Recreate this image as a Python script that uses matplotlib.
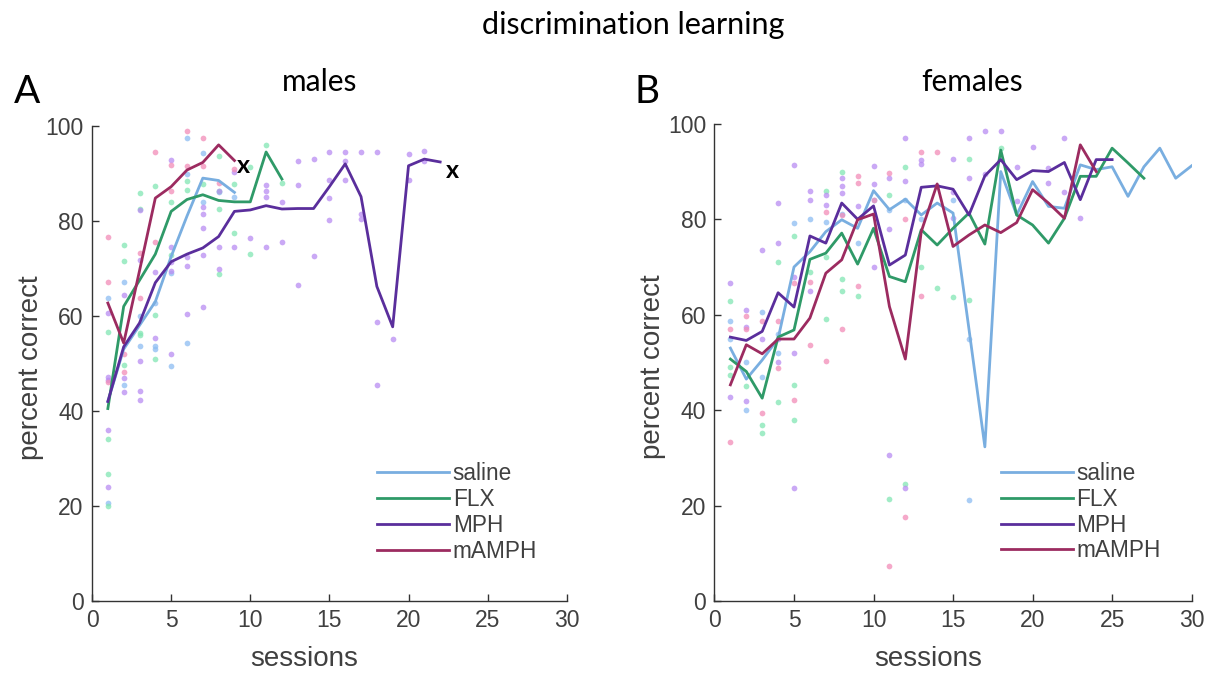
import matplotlib
matplotlib.use("Agg")
import matplotlib.pyplot as plt

# group means per session, males (sessions start at 1)
saline_m = [42, 53, 58, 63, 72.5, 81, 89, 88.5, 86]
flx_m = [40.5, 62, 67.5, 73, 82, 84.5, 85.5, 84.3, 84, 84, 94.5, 88.8]
mph_m = [42, 53.5, 58.5, 67, 71.4, 73, 74.3, 76.7, 82, 82.3, 83.2, 82.5, 82.6, 82.6,
         87.2, 92, 85.1, 66.2, 57.7, 91.6, 93, 92.4]
mamph_m = [62.7, 54.3, 69.5, 84.8, 87.2, 90.7, 92.3, 96, 92.7]

# group means per session, females
saline_f = [53, 46.5, 50.5, 55, 70, 73.2, 77.4, 79.9, 78.1, 86, 82, 84.2, 80.9, 83.4, 81.3,
            57, 32.3, 90, 80.9, 87.9, 82.7, 82.3, 91.4, 90.4, 91, 84.8, 91, 94.9, 88.6, 91.2]
flx_f = [50.7, 48.1, 42.5, 55.3, 56.8, 71.6, 72.9, 77.1, 70.6, 78.1, 68, 66.9, 77.8, 74.6,
         78.1, 81.3, 74.8, 94.5, 80.9, 78.8, 75, 80.2, 89, 89, 94.9, 91.8, 88.6]
mph_f = [55.3, 54.6, 56.5, 64.6, 61.6, 76.5, 75, 83.4, 80, 82.8, 70.4, 72.5, 86.7, 87,
         86.3, 80.9, 89.1, 92.5, 88.3, 90.2, 90, 91.9, 84.1, 92.5, 92.5]
mamph_f = [45.3, 53.7, 51.8, 54.9, 54.9, 59.3, 68.7, 71.5, 79.9, 81.1, 61.7, 50.7, 77.4,
           87.4, 74.3, 76.7, 78.8, 77.2, 79.3, 86.2, 83.4, 80.2, 95.6, 90]

# individual animals: session -> values
saline_m_pts = {1: [63.7, 20.7], 2: [67.2, 45.5], 3: [53.7, 60], 4: [62.7, 53.7, 53],
                5: [49.5, 69], 6: [97.4, 89.9, 54.3], 7: [94.2, 84], 8: [86], 9: [85]}
flx_m_pts = {1: [56.7, 34, 26.7, 20], 2: [75, 71.6, 49.7], 3: [85.8, 82.6, 56.3, 56],
             4: [87.4, 60.2, 51], 5: [84, 72.8], 6: [88.3, 86.5], 7: [87.8],
             8: [93.7, 86.3, 82.6, 68.8], 9: [87.8, 77.5], 10: [91.3, 73], 11: [96], 12: [88]}
mph_m_pts = {1: [60.7, 47.2, 46.5, 36, 24], 2: [64.4, 46.9, 43.9],
             3: [82.3, 71.8, 50.6, 44.3, 42.3], 4: [69.3, 55.3], 5: [92.8, 74.5, 71.4, 69.4, 52],
             6: [72.5, 70.5, 60.5], 7: [82.9, 81.5, 78.5, 72.8, 61.8], 8: [86.2, 74.5, 69.8],
             9: [90.2, 74.5], 10: [76.3], 11: [87.6, 86.2, 85, 74.6], 12: [84, 75.6],
             13: [92.7, 87.6, 66.5], 14: [93, 72.6], 15: [94.4, 88.6, 84.8, 80.2],
             16: [94.4, 92.6, 88.6], 17: [94.4, 81.5, 80.4], 18: [94.4, 58.7, 45.5],
             19: [55.1], 20: [88.6, 94], 21: [94.7, 92.5]}
mamph_m_pts = {1: [76.7, 67.2, 46], 2: [48.1, 52], 3: [73.2, 63.7], 4: [94.4, 75.5],
               5: [91.8, 86.3], 6: [99, 91.6], 7: [97.4, 91.6], 8: [88], 9: [91]}

saline_f_pts = {1: [58.6, 55], 2: [40, 50], 3: [60.5, 47], 4: [56, 52], 5: [79.2], 6: [80],
                7: [79.5], 8: [81], 9: [75], 10: [84], 11: [82], 12: [84], 13: [80],
                15: [84.1], 16: [55, 21.2]}
flx_f_pts = {1: [62.8, 49, 47.3], 2: [45], 3: [36.8, 35.2], 4: [71.1, 41.6],
             5: [76.4, 45.3, 38], 6: [69], 7: [86, 72, 59], 8: [90, 67.5, 65], 9: [64],
             10: [78], 11: [21.4, 85], 12: [91, 24.6], 13: [70], 14: [65.6], 15: [63.8],
             16: [92.6, 63.1], 18: [95]}
mph_f_pts = {1: [66.6, 42.8], 2: [61, 57.4, 42], 3: [73.6, 55], 4: [83.4, 75, 55, 50],
             5: [91.4, 68, 52, 23.6], 6: [86, 84, 65], 7: [85, 83], 8: [88.6, 87, 85.5],
             9: [82.7], 10: [91.2, 87.4, 70], 11: [88.6, 30.6, 78], 12: [97.1, 88, 23.6],
             13: [92.5, 91.5], 14: [87], 15: [92.6, 85.7, 80.2], 16: [97.1, 88.6],
             17: [98.6, 89.5], 18: [98.6], 19: [90.9, 83.9], 20: [95.2], 21: [90.7, 87.7],
             22: [97.1, 85.7], 23: [80.2]}
mamph_f_pts = {1: [57, 33.4], 2: [59.7, 57], 3: [58.7, 39.3], 4: [58.6, 48.8],
               5: [66.7, 42.1], 6: [66.8, 53.7], 7: [81.5, 50.4], 8: [80.9, 57],
               9: [89, 87.5, 66], 10: [84], 11: [89.7, 7.3], 12: [80, 17.5], 13: [94, 64],
               14: [94.1]}

groups = ["saline", "FLX", "MPH", "mAMPH"]
line_colors = ["#79aee0", "#2f9a68", "#5a2e9c", "#9c2b60"]
dot_colors = ["#8dbdf2", "#82e6b4", "#b98cf2", "#f28cb8"]

sans = ["Liberation Sans", "DejaVu Sans"]
plt.rcParams["font.family"] = sans

fig = plt.figure(figsize=(12.11, 6.73), dpi=100)
ax1 = fig.add_axes([0.076, 0.107, 0.392, 0.706])
ax2 = fig.add_axes([0.590, 0.107, 0.394, 0.709])


def draw_panel(ax, means, pts):
    for p, dc in zip(pts, dot_colors):
        xs, ys = [], []
        for s, vals in p.items():
            xs += [s] * len(vals)
            ys += vals
        ax.scatter(xs, ys, s=17, color=dc, alpha=0.75, linewidths=0, zorder=1)
    for m, lc, name in zip(means, line_colors, groups):
        ax.plot(range(1, len(m) + 1), m, color=lc, lw=2.0, label=name, zorder=2)
    ax.set_xlim(0, 30)
    ax.set_ylim(0, 100)
    ax.set_xticks(range(0, 31, 5))
    ax.set_yticks(range(0, 101, 20))
    for side in ["top", "right"]:
        ax.spines[side].set_visible(False)
    for side in ["left", "bottom"]:
        ax.spines[side].set_color("#333333")
        ax.spines[side].set_linewidth(1.0)
    ax.tick_params(direction="in", length=5, width=1, colors="#333333",
                   labelcolor="#404040", labelsize=16.5, pad=6)
    ax.set_xlabel("sessions", fontsize=20, color="#404040")
    ax.set_ylabel("percent correct", fontsize=20, color="#404040")
    ax.xaxis.set_label_coords(0.447, -0.094)
    ax.yaxis.set_label_coords(-0.101, 0.49)
    leg = ax.legend(loc="lower left", bbox_to_anchor=(0.60, 0.081), frameon=False,
                    fontsize=16.3, handlelength=3.2, handletextpad=0.15,
                    labelspacing=0.12, borderpad=0, borderaxespad=0)
    for t in leg.get_texts():
        t.set_color("#404040")


draw_panel(ax1, [saline_m, flx_m, mph_m, mamph_m],
           [saline_m_pts, flx_m_pts, mph_m_pts, mamph_m_pts])
draw_panel(ax2, [saline_f, flx_f, mph_f, mamph_f],
           [saline_f_pts, flx_f_pts, mph_f_pts, mamph_f_pts])

# animals dropped out at these points
ax1.text(9.55, 91.6, "x", fontsize=18, fontweight="bold", ha="center", va="center",
         family=["Lato", "DejaVu Sans"])
ax1.text(22.8, 90.7, "x", fontsize=18, fontweight="bold", ha="center", va="center",
         family=["Lato", "DejaVu Sans"])

title_font = ["Lato", "DejaVu Sans"]
fig.text(0.523, 0.963, "discrimination learning", fontsize=22, ha="center", va="center",
         family=title_font)
fig.text(0.264, 0.878, "males", fontsize=21.5, ha="center", va="center", family=title_font)
fig.text(0.803, 0.878, "females", fontsize=21.5, ha="center", va="center", family=title_font)
fig.text(0.022, 0.863, "A", fontsize=28, ha="center", va="center", family=title_font)
fig.text(0.534, 0.863, "B", fontsize=28, ha="center", va="center", family=title_font)

fig.savefig("out.png", dpi=100, facecolor="white")
